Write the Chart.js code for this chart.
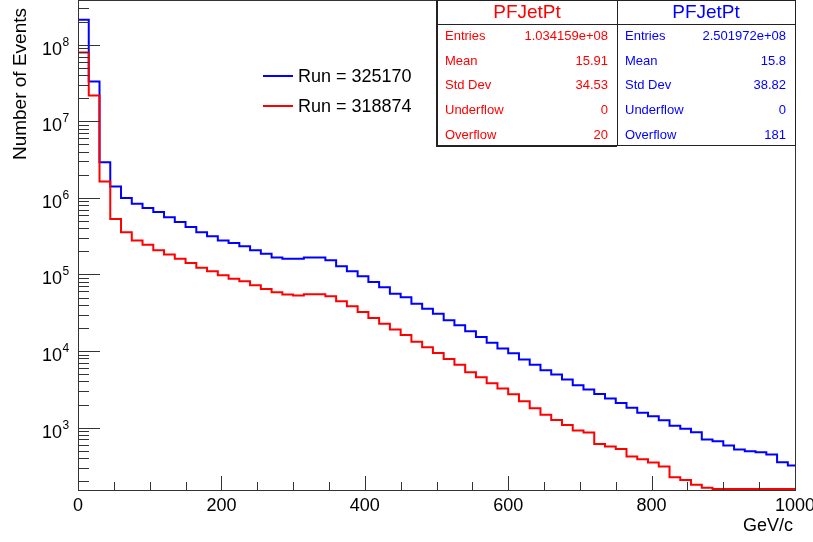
<!DOCTYPE html>
<html lang="en">
<head>
<meta charset="UTF-8">
<title>PFJetPt</title>
<style>
  html, body { margin: 0; padding: 0; background: #fff; }
  canvas { display: block; }
</style>
</head>
<body>

<canvas id="myChart" width="813" height="542"></canvas>

<script src="https://cdn.jsdelivr.net/npm/chart.js@4/dist/chart.umd.min.js"></script>
<script>
// histogram bins start at 0 and are 15 GeV/c wide
var binWidth = 15;

// Run = 325170 (blue), one value per bin
var run325170 = [
  212000000, 33100000, 2930000, 1410000, 1000000, 841000, 740000, 656000, 558000, 485000,
  418000, 356000, 315000, 277000, 258000, 233000, 207000, 186000, 167000, 161000,
  161000, 167000, 167000, 153000, 128000, 110000, 94600, 79800, 68100, 56200,
  50400, 41600, 35800, 30800, 25200, 21700, 18100, 15300, 12800, 10800,
  9330, 7760, 6640, 5600, 4920, 4240, 3570, 3140, 2750, 2390,
  2100, 1810, 1560, 1410, 1250, 1060, 962, 867, 697, 662,
  582, 516, 490, 475, 444, 352, 319
];

// Run = 318874 (red), last bins sit on the bottom of the frame
var run318874 = [
  79400000, 21800000, 1640000, 532000, 356000, 277000, 245000, 207000, 182000, 160000,
  141000, 122000, 110000, 97500, 88100, 81300, 72400, 64600, 58500, 54600,
  53000, 55100, 55100, 51900, 44700, 38400, 32400, 27000, 22800, 19100,
  16200, 13200, 11200, 9440, 7890, 6610, 5300, 4550, 3800, 3240,
  2720, 2210, 1790, 1470, 1260, 1080, 914, 861, 612, 565,
  527, 418, 386, 349, 310, 225, 207, 179, 164, 158,
  158, 158, 158, 158, 158, 158, 158
];

var xTicks = [0, 200, 400, 600, 800, 1000];
var xTickLabels = ['0', '200', '400', '600', '800', '1000'];
var xMinorStep = 50;
var yDecades = [3, 4, 5, 6, 7, 8];
var yMin = 153;
var yMax = 385000000;

var legendItems = [
  { label: 'Run = 325170', color: '#0000ff' },
  { label: 'Run = 318874', color: '#ff0000' }
];

var statsNames = ['Entries', 'Mean', 'Std Dev', 'Underflow', 'Overflow'];
var statsRed = ['1.034159e+08', '15.91', '34.53', '0', '20'];
var statsBlue = ['2.501972e+08', '15.8', '38.82', '0', '181'];

var FONT = '"Liberation Sans", Arial, Helvetica, sans-serif';

function histPoints(vals) {
  var pts = [{ x: 0, y: yMin }];
  for (var i = 0; i < vals.length; i++) {
    pts.push({ x: i * binWidth, y: vals[i] });
  }
  pts.push({ x: vals.length * binWidth, y: vals[vals.length - 1] });
  return pts;
}

var rootStyle = {
  id: 'rootStyle',
  afterDraw: function(chart) {
    var ctx = chart.ctx;
    var a = chart.chartArea;
    var xs = chart.scales.x, ys = chart.scales.y;
    ctx.save();
    ctx.strokeStyle = '#333';
    ctx.lineWidth = 1;

    // frame
    ctx.strokeRect(Math.round(a.left) + 0.5, Math.round(a.top) + 0.5,
      Math.round(a.right - a.left), Math.round(a.bottom - a.top));

    // y ticks (inside the frame)
    ctx.beginPath();
    for (var e = 2; e <= 8; e++) {
      for (var m = 1; m <= 9; m++) {
        var v = m * Math.pow(10, e);
        if (v < yMin || v > yMax) continue;
        var y = Math.round(ys.getPixelForValue(v)) + 0.5;
        var len = m === 1 ? 22 : 11;
        ctx.moveTo(a.left, y);
        ctx.lineTo(a.left + len, y);
      }
    }
    // x ticks
    for (var xv = 0; xv <= 1000; xv += xMinorStep) {
      var px = Math.round(xs.getPixelForValue(xv)) + 0.5;
      var l = xTicks.indexOf(xv) >= 0 ? 14 : 8;
      ctx.moveTo(px, a.bottom);
      ctx.lineTo(px, a.bottom - l);
    }
    ctx.stroke();

    ctx.fillStyle = '#000';
    ctx.textBaseline = 'alphabetic';

    // x labels
    ctx.font = '18px ' + FONT;
    ctx.textAlign = 'center';
    xTicks.forEach(function(v, i) {
      ctx.fillText(xTickLabels[i], xs.getPixelForValue(v), 511);
    });

    // y labels 10^n
    yDecades.forEach(function(n) {
      var y = ys.getPixelForValue(Math.pow(10, n));
      ctx.font = '18px ' + FONT;
      ctx.textAlign = 'right';
      ctx.fillText('10', 62, y + 10);
      ctx.font = '12px ' + FONT;
      ctx.textAlign = 'left';
      ctx.fillText(String(n), 62.5, y + 1);
    });

    // axis titles
    ctx.font = '18px ' + FONT;
    ctx.textAlign = 'right';
    ctx.fillText('GeV/c', a.right - 2, 531);
    ctx.save();
    ctx.translate(26, 8);
    ctx.rotate(-Math.PI / 2);
    ctx.font = '19px ' + FONT;
    ctx.textAlign = 'right';
    ctx.fillText('Number of Events', 0, 0);
    ctx.restore();

    // legend
    legendItems.forEach(function(it, i) {
      var y = 76 + i * 30;
      ctx.strokeStyle = it.color;
      ctx.lineWidth = 2;
      ctx.beginPath();
      ctx.moveTo(263, y);
      ctx.lineTo(293, y);
      ctx.stroke();
      ctx.fillStyle = '#000';
      ctx.font = '18px ' + FONT;
      ctx.textAlign = 'left';
      ctx.textBaseline = 'middle';
      ctx.fillText(it.label, 298, y + 1);
    });

    // stats boxes
    function statBox(x0, x1, color, values) {
      ctx.fillStyle = '#fff';
      ctx.fillRect(x0, 0, x1 - x0, 146);
      ctx.strokeStyle = '#222';
      ctx.lineWidth = 1;
      ctx.strokeRect(x0 + 0.5, 0.5, x1 - x0, 145);
      ctx.beginPath();
      ctx.moveTo(x0, 24.5);
      ctx.lineTo(x1, 24.5);
      ctx.stroke();
      ctx.fillStyle = color;
      ctx.textBaseline = 'middle';
      ctx.font = '19px ' + FONT;
      ctx.textAlign = 'center';
      ctx.fillText('PFJetPt', (x0 + x1) / 2, 13);
      ctx.font = '13px ' + FONT;
      statsNames.forEach(function(name, i) {
        var y = 36.5 + i * 24.7;
        ctx.textAlign = 'left';
        ctx.fillText(name, x0 + 8, y);
        ctx.textAlign = 'right';
        ctx.fillText(values[i], x1 - 9, y);
      });
    }
    statBox(437, 617, '#ff0000', statsRed);
    statBox(617, Math.round(a.right), '#0000ff', statsBlue);
    ctx.strokeStyle = '#222';
    ctx.lineWidth = 2;
    ctx.beginPath();
    ctx.moveTo(437, 0);
    ctx.lineTo(437, 146);
    ctx.lineTo(617, 146);
    ctx.stroke();

    ctx.restore();
  }
};

var ctx = document.getElementById('myChart').getContext('2d');
var chart = new Chart(ctx, {
  type: 'line',
  data: {
    datasets: [{
      label: 'Run = 318874',
      data: histPoints(run318874),
      borderColor: '#ff0000',
      borderWidth: 2,
      stepped: 'before',
      pointRadius: 0,
      fill: false
    }, {
      label: 'Run = 325170',
      data: histPoints(run325170),
      borderColor: '#0000ff',
      borderWidth: 2,
      stepped: 'before',
      pointRadius: 0,
      fill: false
    }]
  },
  options: {
    responsive: false,
    animation: false,
    events: [],
    layout: { padding: { left: 0, top: 0, right: 18, bottom: 0 } },
    plugins: { legend: { display: false }, tooltip: { enabled: false } },
    scales: {
      x: {
        type: 'linear',
        min: 0,
        max: 1000,
        grid: { display: false, drawTicks: false },
        border: { display: false },
        ticks: { display: false },
        afterFit: function(s) { s.height = 52; }
      },
      y: {
        type: 'logarithmic',
        min: yMin,
        max: yMax,
        grid: { display: false, drawTicks: false },
        border: { display: false },
        ticks: { display: false },
        afterFit: function(s) { s.width = 78; }
      }
    }
  },
  plugins: [rootStyle]
});
</script>
</body>
</html>
